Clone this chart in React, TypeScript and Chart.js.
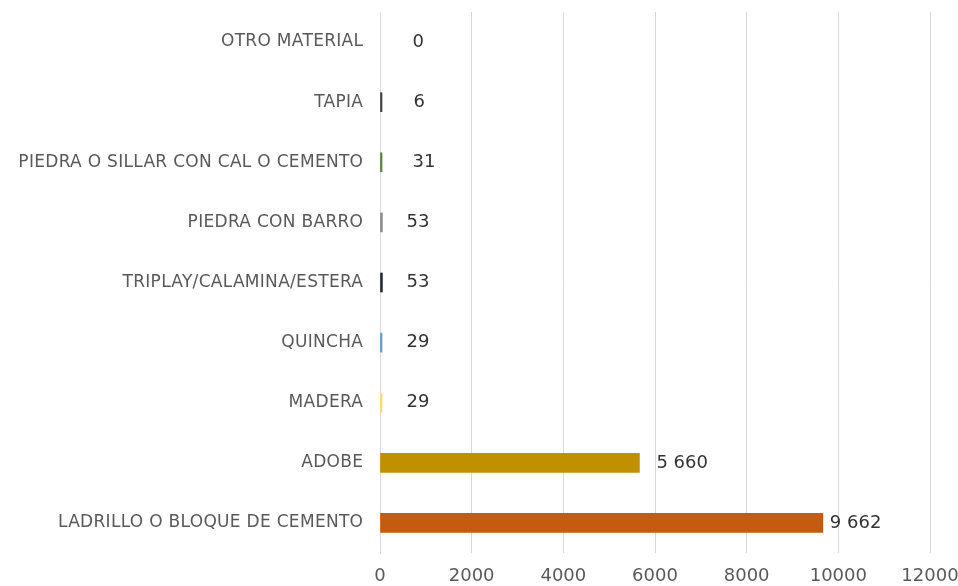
import React, { useEffect, useRef } from "react";
import { Chart, registerables } from "chart.js";

Chart.register(...registerables);

const categories = [
  "OTRO MATERIAL",
  "TAPIA",
  "PIEDRA O SILLAR CON CAL O CEMENTO",
  "PIEDRA CON BARRO",
  "TRIPLAY/CALAMINA/ESTERA",
  "QUINCHA",
  "MADERA",
  "ADOBE",
  "LADRILLO O BLOQUE DE CEMENTO",
];
const values = [0, 6, 31, 53, 53, 29, 29, 5660, 9662];
const valueLabels = ["0", "6", "31", "53", "53", "29", "29", "5 660", "9 662"];
const barColors = [
  "rgba(0,0,0,0)",
  "#404040",
  "#548235",
  "#8C8C8C",
  "#222A35",
  "#5B9BD5",
  "#FFD966",
  "#BF9000",
  "#C55A11",
];
const xTicks = [0, 2000, 4000, 6000, 8000, 10000, 12000];
const labelOffsets = [30, 31, 30, 24, 24, 24, 24, 17, 7];

const FONT = "'DejaVu Sans', sans-serif";

const labelsPlugin = {
  id: "customLabels",
  afterDraw(chart: any) {
    const ctx = chart.ctx;
    const yScale = chart.scales.y;
    const area = chart.chartArea;
    ctx.save();
    // category labels
    ctx.font = `17px ${FONT}`;
    (ctx as any).letterSpacing = "0.3px";
    ctx.fillStyle = "#595959";
    ctx.textAlign = "right";
    ctx.textBaseline = "middle";
    categories.forEach((c, i) => {
      ctx.fillText(c, area.left - 17 + 0.3, yScale.getPixelForValue(i));
    });
    (ctx as any).letterSpacing = "0px";
    // value labels
    const meta = chart.getDatasetMeta(0);
    ctx.font = `18px ${FONT}`;
    ctx.fillStyle = "#333333";
    ctx.textAlign = "left";
    meta.data.forEach((bar: any, i: number) => {
      const end = Math.max(bar.x, bar.base + 2);
      ctx.fillText(valueLabels[i], end + labelOffsets[i], bar.y);
    });
    ctx.restore();
  },
};

export default function App() {
  const ref = useRef<HTMLCanvasElement | null>(null);
  useEffect(() => {
    document.body.style.margin = "0";
    const chart = new Chart(ref.current as HTMLCanvasElement, {
      type: "bar",
      data: {
        labels: categories,
        datasets: [
          {
            data: values,
            backgroundColor: barColors,
            barThickness: 19,
            minBarLength: 2,
          },
        ],
      },
      options: {
        indexAxis: "y",
        animation: false,
        responsive: false,
        layout: { padding: { top: 12, right: 28, left: 0, bottom: 0 } },
        plugins: { legend: { display: false }, tooltip: { enabled: false } },
        scales: {
          x: {
            min: 0,
            max: 12000,
            afterBuildTicks: (s: any) => {
              s.ticks = xTicks.map((v) => ({ value: v }));
            },
            afterFit: (s: any) => {
              s.height = 33;
              s.paddingLeft = 0;
              s.paddingRight = 0;
            },
            grid: { color: "#D9D9D9", drawTicks: false },
            border: { display: false },
            ticks: {
              color: "#595959",
              font: { family: FONT, size: 18 },
              padding: 13,
              maxRotation: 0,
              autoSkip: false,
              callback: (v: any) => String(v),
            },
          },
          y: {
            afterFit: (s: any) => {
              s.width = 380;
              s.paddingTop = 0;
              s.paddingBottom = 0;
            },
            grid: { display: false, drawTicks: false },
            border: { display: true, color: "#D9D9D9" },
            ticks: { display: false },
          },
        },
      },
      plugins: [labelsPlugin],
    });
    return () => chart.destroy();
  }, []);
  return (
    <div style={{ width: 958, height: 586 }}>
      <canvas ref={ref} width={958} height={586} />
    </div>
  );
}
